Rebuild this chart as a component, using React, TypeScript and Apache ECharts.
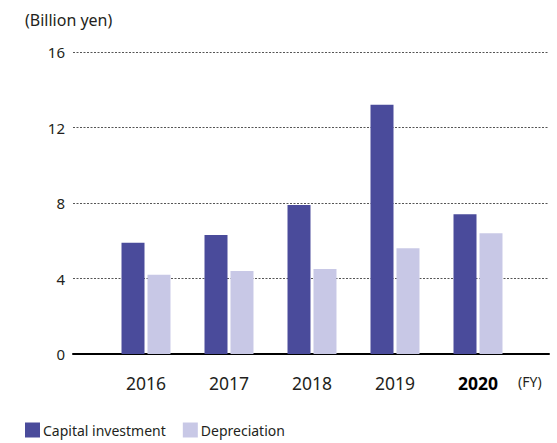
import React, { useEffect, useRef } from "react";
import * as echarts from "echarts";

const years = ["2016", "2017", "2018", "2019", "2020"];
const capitalInvestment = [5.9, 6.3, 7.9, 13.2, 7.4];
const depreciation = [4.2, 4.4, 4.5, 5.6, 6.4];
const yTicks = { min: 0, max: 16, interval: 4 };

const FONT = "'Noto Sans', sans-serif";
const TEXT = "#231F20";

export default function App() {
  const ref = useRef<HTMLDivElement>(null);
  useEffect(() => {
    if (!ref.current) return;
    const chart = echarts.init(ref.current, null, { renderer: "svg" });
    const option = {
      animation: false,
      textStyle: { fontFamily: FONT, color: TEXT },
      grid: [
        { left: 73, right: 8, top: 52, bottom: 89 },
        { left: 104.5, right: 37.5, top: 52, bottom: 89 },
      ],
      xAxis: [
        {
          type: "value",
          gridIndex: 0,
          min: 0,
          max: 1,
          axisLine: { show: true, onZero: false, lineStyle: { color: "#000", width: 2 } },
          axisTick: { show: false },
          axisLabel: { show: false },
          splitLine: { show: false },
        },
        {
          type: "category",
          gridIndex: 1,
          data: years,
          axisLine: { show: false },
          axisTick: { show: false },
          axisLabel: {
            interval: 0,
            margin: 20,
            fontSize: 17.5,
            lineHeight: 17,
            color: TEXT,
            fontFamily: FONT,
            formatter: (v: string) => (v === "2020" ? `{b|${v}}` : v),
            rich: {
              b: { fontWeight: "bold", fontSize: 17.5, lineHeight: 17, fontFamily: FONT, color: "#000" },
            },
          },
        },
      ],
      yAxis: [
        {
          type: "value",
          gridIndex: 0,
          min: yTicks.min,
          max: yTicks.max,
          interval: yTicks.interval,
          axisLine: { show: false },
          axisTick: { show: false },
          axisLabel: { margin: 8, fontSize: 15, color: TEXT, fontFamily: FONT },
          splitLine: { show: true, lineStyle: { color: "#555", width: 1, type: [2, 1.5] } },
        },
        {
          type: "value",
          gridIndex: 1,
          min: yTicks.min,
          max: yTicks.max,
          interval: yTicks.interval,
          show: false,
          splitLine: { show: false },
        },
      ],
      legend: {
        left: 25,
        top: 422.5,
        padding: 0,
        icon: "rect",
        itemWidth: 15,
        itemHeight: 15,
        itemGap: 17,
        textStyle: { fontSize: 14, color: TEXT, fontFamily: FONT, padding: [0, 0, 0, -2] },
        data: ["Capital investment", "Depreciation"],
      },
      graphic: [
        {
          type: "text",
          left: 25,
          top: 12,
          style: { text: "(Billion yen)", fontSize: 16, fontFamily: FONT, fill: TEXT },
        },
        {
          type: "text",
          left: 518,
          top: 374,
          style: { text: "(FY)", fontSize: 14, fontFamily: FONT, fill: TEXT },
        },
      ],
      series: [
        {
          name: "Capital investment",
          type: "bar",
          xAxisIndex: 1,
          yAxisIndex: 1,
          data: capitalInvestment,
          barWidth: 23,
          barGap: "13%",
          itemStyle: { color: "#4A4B9B" },
        },
        {
          name: "Depreciation",
          type: "bar",
          xAxisIndex: 1,
          yAxisIndex: 1,
          data: depreciation,
          barWidth: 23,
          barGap: "13%",
          itemStyle: { color: "#C8C8E6" },
        },
      ],
    };
    chart.setOption(option as any);
    return () => chart.dispose();
  }, []);
  return (
    <div
      ref={ref}
      style={{ position: "absolute", left: 0, top: 0, width: 557, height: 443 }}
    />
  );
}
